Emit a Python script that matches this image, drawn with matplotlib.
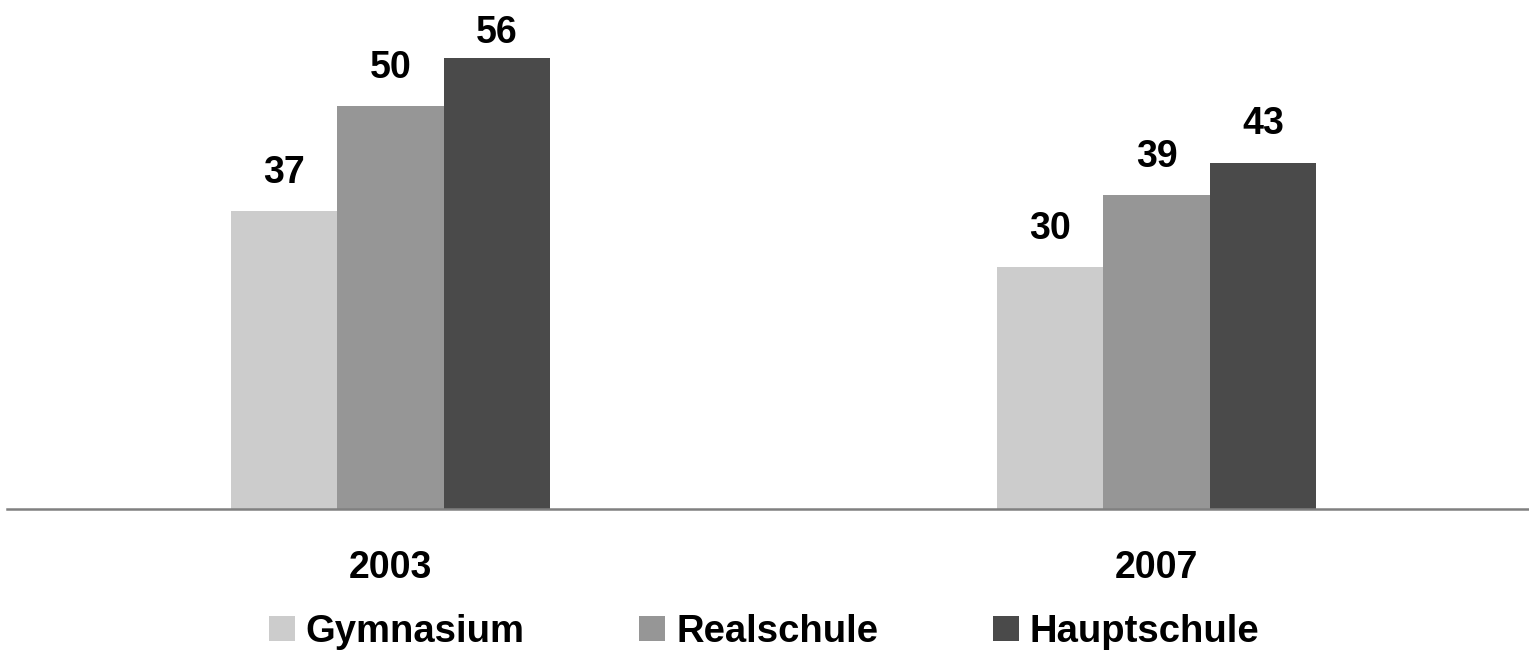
import numpy as np
import matplotlib
matplotlib.use('Agg')
import matplotlib.pyplot as plt

years = ['2003', '2007']
schools = ['Gymnasium', 'Realschule', 'Hauptschule']
gymnasium = [37, 30]
realschule = [50, 39]
hauptschule = [56, 43]
colors = ['#cccccc', '#969696', '#4a4a4a']

plt.rcParams['font.family'] = ['Liberation Sans', 'DejaVu Sans']
plt.rcParams['font.weight'] = 'bold'

fig = plt.figure(figsize=(15.29, 6.6), dpi=100)
ax = fig.add_axes([0.0049, 0.2295, 0.9951, 0.7705])

ymax = 63.2
label_gap = 3.5       # gap between bar top and label baseline
label_cap = 57.9      # labels are kept inside the plot area

x = np.arange(len(years))
w = 0.139
series = [gymnasium, realschule, hauptschule]
for i, (vals, name, c) in enumerate(zip(series, schools, colors)):
    bars = ax.bar(x + (i - 1) * w, vals, w, color=c, label=name)
    for b, v in zip(bars, vals):
        ax.text(b.get_x() + b.get_width() / 2, min(v + label_gap, label_cap),
                str(v), ha='center', va='baseline', fontsize=27,
                fontweight='bold')

ax.set_xlim(-0.5, 1.486)
ax.set_ylim(0, ymax)
ax.set_xticks(x)
ax.set_xticklabels(years, fontsize=27, fontweight='bold')
ax.tick_params(axis='x', length=0, pad=30)
ax.set_yticks([])
for s in ['top', 'right', 'left']:
    ax.spines[s].set_visible(False)
ax.spines['bottom'].set_color('#808080')
ax.spines['bottom'].set_linewidth(1.8)

fig.legend(loc='center', bbox_to_anchor=(0.4997, 0.0424), ncol=3,
           frameon=False, prop={'size': 27.5, 'weight': 'bold'},
           handlelength=0.68, handleheight=0.6, handletextpad=0.29,
           columnspacing=3.0)

plt.savefig('out.png', dpi=100)
